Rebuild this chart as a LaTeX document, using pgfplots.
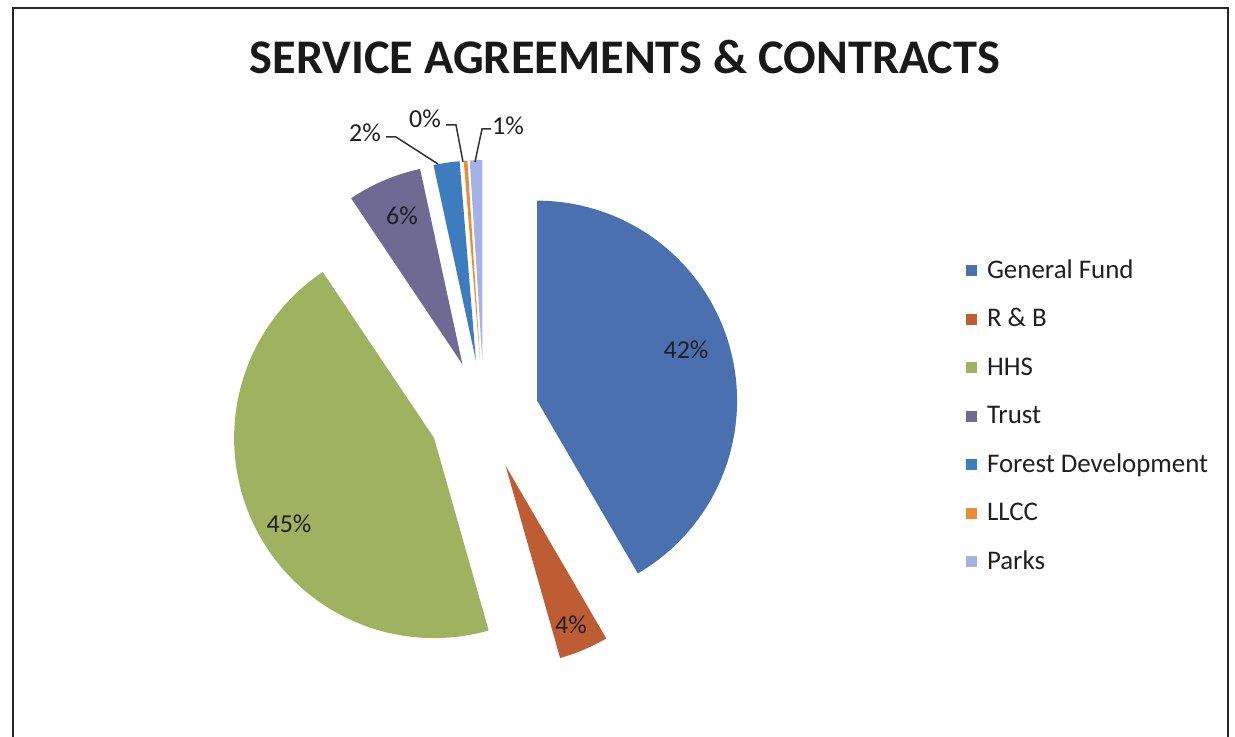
\documentclass[border=0pt]{standalone}
\usepackage{pgfplots}
\usepackage{pgfplotstable}
\pgfplotsset{compat=1.18}
\usepackage{fontspec}
\setmainfont{Carlito}

\definecolor{c0}{RGB}{74,112,176}
\definecolor{c1}{RGB}{190,92,52}
\definecolor{c2}{RGB}{158,178,96}
\definecolor{c3}{RGB}{110,106,148}
\definecolor{c4}{RGB}{62,124,192}
\definecolor{c5}{RGB}{236,140,50}
\definecolor{c6}{RGB}{166,178,228}

% share of each fund, percent (General Fund, R&B, HHS, Trust, Forest Dev., LLCC, Parks)
\pgfplotstableread{
idx value
0 41.6
1 4.0
2 45.0
3 6.0
4 2.1
5 0.3
6 1.0
}\piedata

\begin{document}
\begin{tikzpicture}
\begin{axis}[
  hide axis, scale only axis,
  width=1235bp, height=737bp,
  xmin=0, xmax=1235, ymin=0, ymax=737,
  y dir=reverse, clip=false,
  legend cell align=left,
  legend image code/.code={\fill[#1,draw=none] (0bp,2bp) rectangle (11bp,13bp);},
  legend style={draw=none, fill=none, at={(axis cs:966,259)}, anchor=north west,
    inner sep=0pt, outer sep=0pt, row sep=23.5bp, column sep=0bp,
    font=\fontsize{27}{31}\selectfont,
    nodes={inner ysep=0bp, inner xsep=10bp, text height=19bp, text depth=6bp, anchor=base west, text=black!88}},
]
\def\cum{0}
\pgfplotsforeachungrouped \i in {0,...,6}{%
  \pgfplotstablegetelem{\i}{value}\of\piedata
  \let\v\pgfplotsretval
  \pgfmathsetmacro\a{\cum*3.6}%
  \pgfmathsetmacro\b{(\cum+\v)*3.6}%
  \pgfmathsetmacro\m{(\a+\b)/2}%
  \pgfmathsetmacro\cx{484+55*sin(\m)}%
  \pgfmathsetmacro\cy{415-55*cos(\m)}%
  \edef\temp{\noexpand\addplot[fill=c\i, draw=none, domain=\a:\b, samples=90, variable=\noexpand\t]
     ({\cx+200*sin(\noexpand\t)},{\cy-200*cos(\noexpand\t)}) -- (axis cs:\cx,\cy) -- cycle;}%
  \temp
  \pgfmathsetmacro\cum{\cum+\v}%
}
\legend{General Fund, R \& B, HHS, Trust, Forest Development, LLCC, Parks}

% frame
\draw[line width=2.5bp, black!85] (axis cs:13,737) -- (axis cs:13,8) -- (axis cs:1228,8) -- (axis cs:1228,737);

% title
\node[anchor=base, font=\bfseries\fontsize{48.5}{58}\selectfont, text=black!90] at (axis cs:625,74) {SERVICE AGREEMENTS \& CONTRACTS};

% data labels
\begin{scope}[every node/.style={anchor=base, font=\fontsize{26}{30}\selectfont, text=black!88, inner sep=0pt}]
\node at (axis cs:686,358) {42\%};
\node at (axis cs:571,633) {4\%};
\node at (axis cs:289,532) {45\%};
\node at (axis cs:402,224) {6\%};
\node at (axis cs:365,142) {2\%};
\node at (axis cs:425,128) {0\%};
\node at (axis cs:508,135) {1\%};
\end{scope}
\draw[black!80, line width=1.5bp] (axis cs:386,137) -- (axis cs:396,137) -- (axis cs:438,164);
\draw[black!80, line width=1.5bp] (axis cs:446,125) -- (axis cs:456,125) -- (axis cs:463,162);
\draw[black!80, line width=1.5bp] (axis cs:491,129) -- (axis cs:482,129) -- (axis cs:475,162);
\end{axis}
\pgfresetboundingbox
\path[use as bounding box] (current axis.south west) rectangle (current axis.north east);
\end{tikzpicture}
\end{document}
